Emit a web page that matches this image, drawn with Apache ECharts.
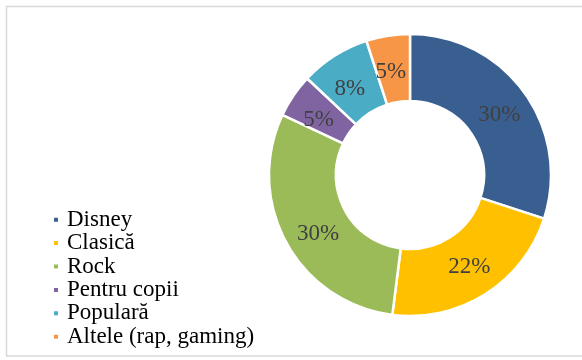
<!DOCTYPE html>
<html>
<head>
<meta charset="utf-8">
<script src="https://cdn.jsdelivr.net/npm/echarts@6/dist/echarts.min.js"></script>
<style>
  html, body { margin: 0; padding: 0; background: #fff; }
  #chart { width: 582px; height: 360px; }
</style>
</head>
<body>
<div id="chart"></div>
<script>
// Music genre preferences (share of respondents, %)
const categories = ['Disney', 'Clasică', 'Rock', 'Pentru copii', 'Populară', 'Altele (rap, gaming)'];
const values = [30, 22, 30, 5, 8, 5];
const colors = ['#385f8f', '#ffc000', '#9bbb59', '#8064a2', '#4bacc6', '#f79646'];
// small nudges of the value labels inside their ring segments
const labelOffsets = [[0, 5], [0, -1], [5, 6], [0, 7], [-1, 7], [-2, 6]];

const chart = echarts.init(document.getElementById('chart'), null, { renderer: 'canvas' });

chart.setOption({
  animation: false,
  backgroundColor: '#ffffff',
  color: colors,
  graphic: [{
    type: 'rect',
    shape: { x: 6.5, y: 6.5, width: 590, height: 349.5 },
    style: { fill: 'none', stroke: '#d9d9d9', lineWidth: 1.5 },
    silent: true
  }],
  legend: {
    orient: 'vertical',
    left: 47,
    top: 203,
    icon: 'rect',
    itemWidth: 6,
    itemHeight: 6,
    itemGap: 0,
    textStyle: {
      fontFamily: '"Liberation Serif", "Times New Roman", serif',
      fontSize: 23,
      color: '#000000',
      lineHeight: 23.4,
      padding: [0, 0, 0, 3]
    },
    data: categories
  },
  series: [{
    type: 'pie',
    center: [410, 175],
    radius: [74, 141],
    startAngle: 90,
    clockwise: true,
    avoidLabelOverlap: false,
    itemStyle: { borderColor: '#ffffff', borderWidth: 2.5 },
    label: {
      show: true,
      position: 'inside',
      formatter: '{c}%',
      fontFamily: '"Liberation Serif", "Times New Roman", serif',
      fontSize: 23,
      color: '#404040'
    },
    labelLine: { show: false },
    emphasis: { disabled: true },
    data: categories.map((name, i) => ({
      name: name,
      value: values[i],
      label: { offset: labelOffsets[i] }
    }))
  }]
});
</script>
</body>
</html>
